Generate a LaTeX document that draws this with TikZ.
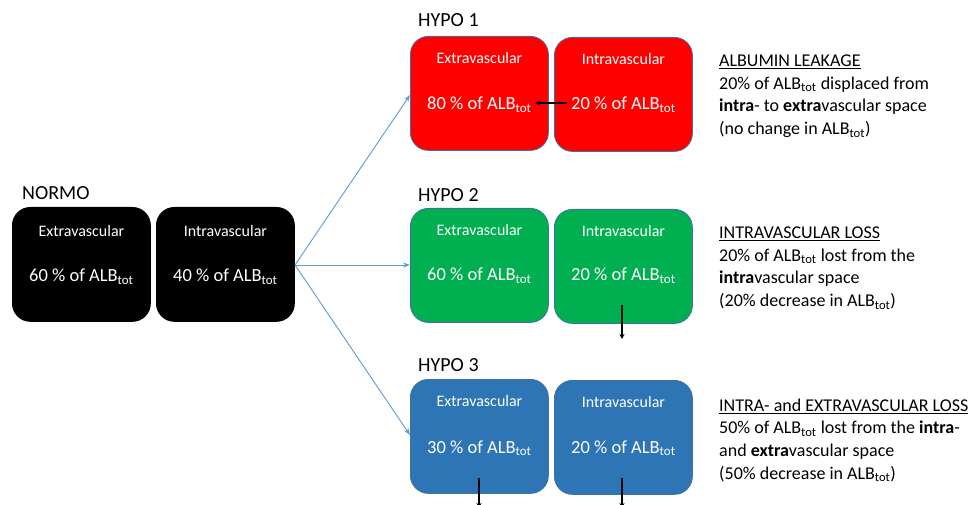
\documentclass[tikz,border=0pt]{standalone}
\usepackage{fontspec}
\setmainfont{Carlito}
\usetikzlibrary{arrows.meta}
\definecolor{boxred}{HTML}{FF0000}
\definecolor{boxgreen}{HTML}{00B050}
\definecolor{boxblue}{HTML}{2E75B6}
\definecolor{boxedge}{HTML}{41719C}
\definecolor{arrblue}{HTML}{5B9BD5}
\newcommand{\albt}{ALB\textsubscript{tot}}
\begin{document}
\begin{tikzpicture}[x=1pt,y=-1pt,
  compbox/.style={draw=boxedge, line width=0.8pt, rounded corners=18pt, anchor=north west,
    minimum width=138pt, minimum height=114pt, inner sep=0pt},
  titletext/.style={text=white, font=\fontsize{16}{18}\selectfont, inner sep=0pt},
  pcttext/.style={text=white, font=\fontsize{18.5}{20}\selectfont, inner sep=0pt},
  grouplabel/.style={anchor=west, font=\fontsize{20}{22}\selectfont, inner sep=0pt},
  desctext/.style={anchor=north west, align=left, inner sep=0pt, font=\fontsize{18}{22.7}\selectfont},
  blueline/.style={draw=arrblue, line width=0.9pt, -{Stealth[length=7pt,width=5pt]}},
  blackline/.style={draw=black, line width=1.2pt, -{Stealth[length=5pt,width=5pt]}}
]
\useasboundingbox (0,0) rectangle (974,505);

% NORMO
\node[grouplabel] (lnormo) at (22,193) {NORMO};
\node[compbox, fill=black, draw=black] (ne) at (12,207) {};
\node[compbox, fill=black, draw=black] (ni) at (156,207) {};
\node[titletext] (net) at ([yshift=-24pt]ne.north) {Extravascular};
\node[pcttext] (nep) at ([yshift=-70pt]ne.north) {60 \% of \albt};
\node[titletext] (nit) at ([yshift=-24pt]ni.north) {Intravascular};
\node[pcttext] (nip) at ([yshift=-70pt]ni.north) {40 \% of \albt};
\coordinate (src) at (295,265);

% HYPO 1
\node[grouplabel] (lh1) at (418,20) {HYPO 1};
\node[compbox, fill=boxred] (h1e) at (410,36) {};
\node[compbox, fill=boxred] (h1i) at (554,37) {};
\node[titletext] (h1et) at ([yshift=-22pt]h1e.north) {Extravascular};
\node[pcttext] (h1ep) at ([yshift=-69pt]h1e.north) {80 \% of \albt};
\node[titletext] (h1it) at ([yshift=-22pt]h1i.north) {Intravascular};
\node[pcttext] (h1ip) at ([yshift=-68pt]h1i.north) {20 \% of \albt};

% HYPO 2
\node[grouplabel] (lh2) at (418,195) {HYPO 2};
\node[compbox, fill=boxgreen] (h2e) at (410,208) {};
\node[compbox, fill=boxgreen] (h2i) at (554,209) {};
\node[titletext] (h2et) at ([yshift=-22pt]h2e.north) {Extravascular};
\node[pcttext] (h2ep) at ([yshift=-68pt]h2e.north) {60 \% of \albt};
\node[titletext] (h2it) at ([yshift=-22pt]h2i.north) {Intravascular};
\node[pcttext] (h2ip) at ([yshift=-67pt]h2i.north) {20 \% of \albt};

% HYPO 3
\node[grouplabel] (lh3) at (418,365) {HYPO 3};
\node[compbox, fill=boxblue] (h3e) at (410,379) {};
\node[compbox, fill=boxblue] (h3i) at (554,380) {};
\node[titletext] (h3et) at ([yshift=-22pt]h3e.north) {Extravascular};
\node[pcttext] (h3ep) at ([yshift=-69pt]h3e.north) {30 \% of \albt};
\node[titletext] (h3it) at ([yshift=-22pt]h3i.north) {Intravascular};
\node[pcttext] (h3ip) at ([yshift=-68pt]h3i.north) {20 \% of \albt};

% descriptions
\node[desctext] (d1) at (719,54.5) {\underline{ALBUMIN LEAKAGE}\\20\% of \albt{} displaced from\\\textbf{intra}- to \textbf{extra}vascular space\\(no change in \albt)};
\node[desctext] (d2) at (719,226.5) {\underline{INTRAVASCULAR LOSS}\\20\% of \albt{} lost from the\\\textbf{intra}vascular space\\(20\% decrease in \albt)};
\node[desctext] (d3) at (719,398.5) {\underline{INTRA- and EXTRAVASCULAR LOSS}\\50\% of \albt{} lost from the \textbf{intra}-\\and \textbf{extra}vascular space\\(50\% decrease in \albt)};

% blue connectors
\draw[blueline] (src) -- (h1e.west |- 0,95);
\draw[blueline] (src) -- (h2e.west |- src);
\draw[blueline] (src) -- (h3e.west |- 0,435);

% black arrows
\coordinate (a1s) at (567,103);
\coordinate (a1e) at (535,103);
\draw[blackline] (a1s) -- (a1e);
\coordinate (a2s) at (622,305);
\coordinate (a2e) at (622,339);
\draw[blackline] (a2s) -- (a2e);
\coordinate (a3s) at (479,478);
\coordinate (a3e) at (479,508);
\draw[blackline] (a3s) -- (a3e);
\coordinate (a4s) at (622,478);
\coordinate (a4e) at (622,508);
\draw[blackline] (a4s) -- (a4e);
\end{tikzpicture}
\end{document}
